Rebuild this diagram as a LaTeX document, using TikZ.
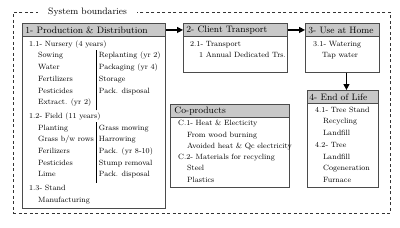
\documentclass[tikz,border=0pt]{standalone}
\usepackage{tikz}
\usetikzlibrary{positioning, arrows.meta, calc}
\definecolor{LCAframe}{RGB}{75, 75, 75}
\definecolor{LCAhead}{RGB}{200, 200, 200}
\tikzset{
  stage/.style={rectangle, draw=LCAframe, line width=0.9pt, fill=white, anchor=north west, inner sep=0pt},
  head/.style={rectangle, draw=LCAframe, line width=0.9pt, fill=LCAhead, anchor=north west,
    minimum height=13pt, inner xsep=3pt, inner ysep=0pt, align=left, font=\fontsize{9.3}{11}\selectfont},
  txt/.style={anchor=north west, inner sep=0pt, font=\fontsize{7.6}{11.7}\selectfont},
  bound/.style={rectangle, draw=black!80, dashed, dash pattern=on 3pt off 2.5pt, line width=0.8pt, anchor=north west},
  flow/.style={-{Triangle[length=6pt, width=6pt]}, line width=1.3pt, black},
}

\begin{document}
\begin{tikzpicture}[x=1pt, y=-1pt]
    \useasboundingbox (0,0) rectangle (400,228);
    % system boundary
    \node[bound, minimum width=377pt, minimum height=201pt] (sys) at (13,12) {};
    \node[fill=white, inner xsep=10pt, inner ysep=1pt, anchor=west, font=\fontsize{9.3}{11}\selectfont]
      (syslbl) at ([xshift=25pt]sys.north west) {System boundaries};
    % stage frames
    \node[stage, minimum width=143pt, minimum height=185pt] (prod) at (22,23) {};
    \node[stage, minimum width=104pt, minimum height=49pt] (cli) at (183,23) {};
    \node[stage, minimum width=74pt, minimum height=49pt] (use) at (305,23) {};
    \node[stage, minimum width=71pt, minimum height=97pt] (eol) at (307,90) {};
    \node[stage, minimum width=119pt, minimum height=83pt] (cop) at (170,104) {};
    % headers
    \node[head, text width=137pt] (prodh) at (prod.north west) {1- Production \& Distribution};
    \node[head, text width=98pt] (clih) at (cli.north west) {2- Client Transport};
    \node[head, text width=68pt] (useh) at (use.north west) {3- Use at Home};
    \node[head, text width=67pt, inner xsep=2pt] (eolh) at (eol.north west) {4- End of Life};
    \node[head, text width=111pt, inner xsep=4pt] (coph) at (cop.north west) {Co-products};
    % contents
    \node[txt] (prodtxt) at ([xshift=7pt, yshift=-1pt]prodh.south west) {%
      \begin{tabular}{@{}l@{}l@{\hspace{2pt}}|@{\hspace{3pt}}l@{}}
        \multicolumn{3}{@{}l@{}}{1.1- Nursery (4 years)}\\
        \hspace*{9pt} & Sowing & Replanting (yr 2)\\
        & Water & Packaging (yr 4)\\
        & Fertilizers & Storage\\
        & Pesticides & Pack. disposal\\
        & Extract. (yr 2) & \\[2pt]
        \multicolumn{3}{@{}l@{}}{1.2- Field (11 years)}\\
        & Planting & Grass mowing\\
        & Grass b/w rows & Harrowing\\
        & Ferilizers & Pack. (yr 8-10)\\
        & Pesticides & Stump removal\\
        & Lime & Pack. disposal\\[2pt]
        \multicolumn{3}{@{}l@{}}{1.3- Stand}\\
        \multicolumn{3}{@{}l@{}}{\hspace*{9pt}Manufacturing}
      \end{tabular}};
    \node[txt] (clitxt) at ([xshift=7pt, yshift=-1pt]clih.south west) {%
      \begin{tabular}{@{}l@{}}
        2.1- Transport\\
        \hspace*{9pt}1 Annual Dedicated Trs.
      \end{tabular}};
    \node[txt] (usetxt) at ([xshift=8pt, yshift=-1pt]useh.south west) {%
      \begin{tabular}{@{}l@{}}
        3.1- Watering\\
        \hspace*{9pt}Tap water
      \end{tabular}};
    \node[txt] (eoltxt) at ([xshift=8pt, yshift=0pt]eolh.south west) {%
      \begin{tabular}{@{}l@{}}
        4.1- Tree Stand\\
        \hspace*{8pt}Recycling\\
        \hspace*{8pt}Landfill\\
        4.2- Tree\\
        \hspace*{8pt}Landfill\\
        \hspace*{8pt}Cogeneration\\
        \hspace*{8pt}Furnace
      \end{tabular}};
    \node[txt] (coptxt) at ([xshift=8pt, yshift=0pt]coph.south west) {%
      \renewcommand\arraystretch{0.96}%
      \begin{tabular}{@{}l@{}}
        C.1- Heat \& Electicity\\
        \hspace*{9pt}From wood burning\\
        \hspace*{9pt}Avoided heat \& Qc electricity\\
        C.2- Materials for recycling\\
        \hspace*{9pt}Steel\\
        \hspace*{9pt}Plastics
      \end{tabular}};
    % flows
    \draw[flow] (prodh.east) -- (clih.west);
    \draw[flow] (clih.east) -- (useh.west);
    \draw[flow] ([xshift=4pt]use.south) -- ([xshift=4pt]use.south |- eol.north);
\end{tikzpicture}
\end{document}
